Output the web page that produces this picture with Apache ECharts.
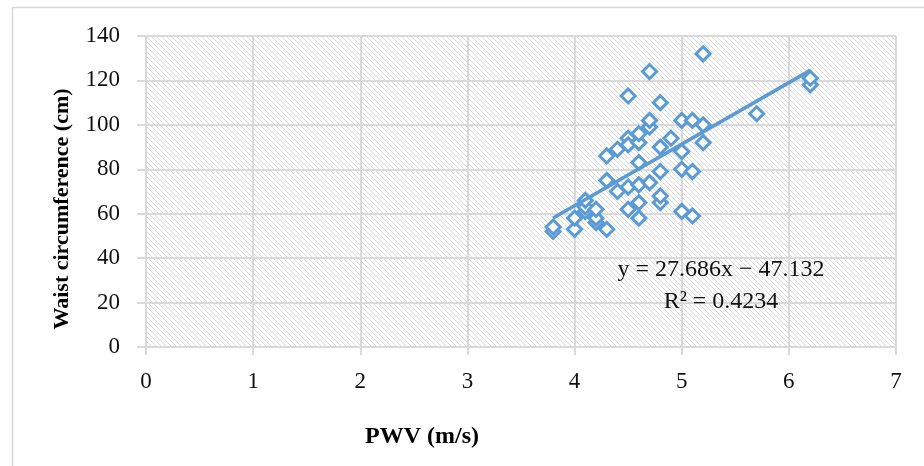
<!DOCTYPE html>
<html>
<head>
<meta charset="utf-8">
<script src="https://cdn.jsdelivr.net/npm/echarts@6/dist/echarts.min.js"></script>
<style>
html,body{margin:0;padding:0;background:#fff;}
#chart{width:924px;height:466px;}
</style>
</head>
<body>
<div id="chart"></div>
<script>
// Data
const pwv = [
  3.8, 3.8,
  4.0, 4.0,
  4.1, 4.1, 4.1,
  4.2, 4.2, 4.2,
  4.3, 4.3, 4.3,
  4.4, 4.4,
  4.5, 4.5, 4.5, 4.5, 4.5,
  4.6, 4.6, 4.6, 4.6, 4.6, 4.6,
  4.7, 4.7, 4.7, 4.7,
  4.8, 4.8, 4.8, 4.8, 4.8,
  4.9,
  5.0, 5.0, 5.0, 5.0,
  5.1, 5.1, 5.1,
  5.2, 5.2, 5.2,
  5.7,
  6.2, 6.2
];
const waist = [
  52, 54,
  53, 58,
  61, 63, 66,
  56, 58, 62,
  53, 75, 86,
  70, 89,
  62, 72, 94, 91, 113,
  58, 65, 73, 83, 92, 96,
  74, 99, 102, 124,
  65, 68, 79, 90, 110,
  94,
  61, 80, 88, 102,
  59, 79, 102,
  92, 100, 132,
  105,
  118, 121
];
const trendSlope = 27.686;
const trendIntercept = -47.132;
const equationText = 'y = 27.686x \u2212 47.132';
const r2Text = 'R\u00b2 = 0.4234';
const xTicks = [0, 1, 2, 3, 4, 5, 6, 7];
const yTicks = [0, 20, 40, 60, 80, 100, 120, 140];
const xTitle = 'PWV (m/s)';
const yTitle = 'Waist circumference (cm)';

const points = pwv.map((x, i) => [x, waist[i]]);
const xMinData = Math.min(...pwv), xMaxData = Math.max(...pwv);
const trend = [xMinData, xMaxData].map(x => [x, trendSlope * x + trendIntercept]);

// hatch pattern
const pc = document.createElement('canvas');
pc.width = 10; pc.height = 10;
const pctx = pc.getContext('2d');
pctx.fillStyle = '#ffffff';
pctx.fillRect(0, 0, 10, 10);
pctx.fillStyle = '#dadada';
for (let y = 0; y < 10; y++) {
  for (let x = 0; x < 10; x++) {
    if (((x - y) % 5 + 5) % 5 === 0) pctx.fillRect(x, y, 1, 1);
  }
}

const FONT = '"Liberation Serif", "Times New Roman", serif';
const chart = echarts.init(document.getElementById('chart'), null, {renderer: 'canvas'});
chart.setOption({
  animation: false,
  backgroundColor: '#ffffff',
  grid: {
    left: 146, right: 28, top: 36, bottom: 119,
    show: true,
    backgroundColor: {image: pc, repeat: 'repeat'},
    borderWidth: 0
  },
  xAxis: {
    type: 'value',
    min: xTicks[0], max: xTicks[xTicks.length - 1], interval: 1,
    axisLine: {show: true, lineStyle: {color: '#d9d9d9', width: 2}},
    axisTick: {show: true, length: 8, lineStyle: {color: '#d9d9d9', width: 2}},
    splitLine: {show: true, lineStyle: {color: '#d9d9d9', width: 2}},
    axisLabel: {fontFamily: FONT, fontSize: 23, color: '#111', margin: 23}
  },
  yAxis: {
    type: 'value',
    min: yTicks[0], max: yTicks[yTicks.length - 1], interval: 20,
    axisLine: {show: true, lineStyle: {color: '#d9d9d9', width: 2}},
    axisTick: {show: true, length: 9, lineStyle: {color: '#d9d9d9', width: 2}},
    splitLine: {show: true, lineStyle: {color: '#d9d9d9', width: 2}},
    axisLabel: {fontFamily: FONT, fontSize: 23, color: '#111', margin: 26}
  },
  series: [
    {
      type: 'scatter',
      data: points,
      symbol: 'diamond',
      symbolSize: 14,
      itemStyle: {color: '#ffffff', borderColor: '#5b9bd5', borderWidth: 3, opacity: 1},
      z: 3
    },
    {
      type: 'line',
      data: trend,
      symbol: 'none',
      lineStyle: {color: '#5b9bd5', width: 3.5},
      z: 4
    }
  ],
  graphic: [
    {
      type: 'rect',
      shape: {x: 12.5, y: 7.5, width: 1000, height: 1000},
      style: {fill: 'none', stroke: '#d9d9d9', lineWidth: 1.5},
      silent: true
    },
    {
      type: 'text', x: 721, y: 270, z: 10,
      style: {text: equationText, font: '24px ' + FONT, fill: '#111', textAlign: 'center', textVerticalAlign: 'middle'}
    },
    {
      type: 'text', x: 721, y: 302, z: 10,
      style: {text: r2Text, font: '24px ' + FONT, fill: '#111', textAlign: 'center', textVerticalAlign: 'middle'}
    },
    {
      type: 'text', x: 422, y: 437, z: 10,
      style: {text: xTitle, font: 'bold 24px ' + FONT, fill: '#000', textAlign: 'center', textVerticalAlign: 'middle'}
    },
    {
      type: 'text', x: 62, y: 209, rotation: Math.PI / 2, z: 10,
      style: {text: yTitle, font: 'bold 22px ' + FONT, fill: '#000', textAlign: 'center', textVerticalAlign: 'middle'}
    }
  ]
});
</script>
</body>
</html>
